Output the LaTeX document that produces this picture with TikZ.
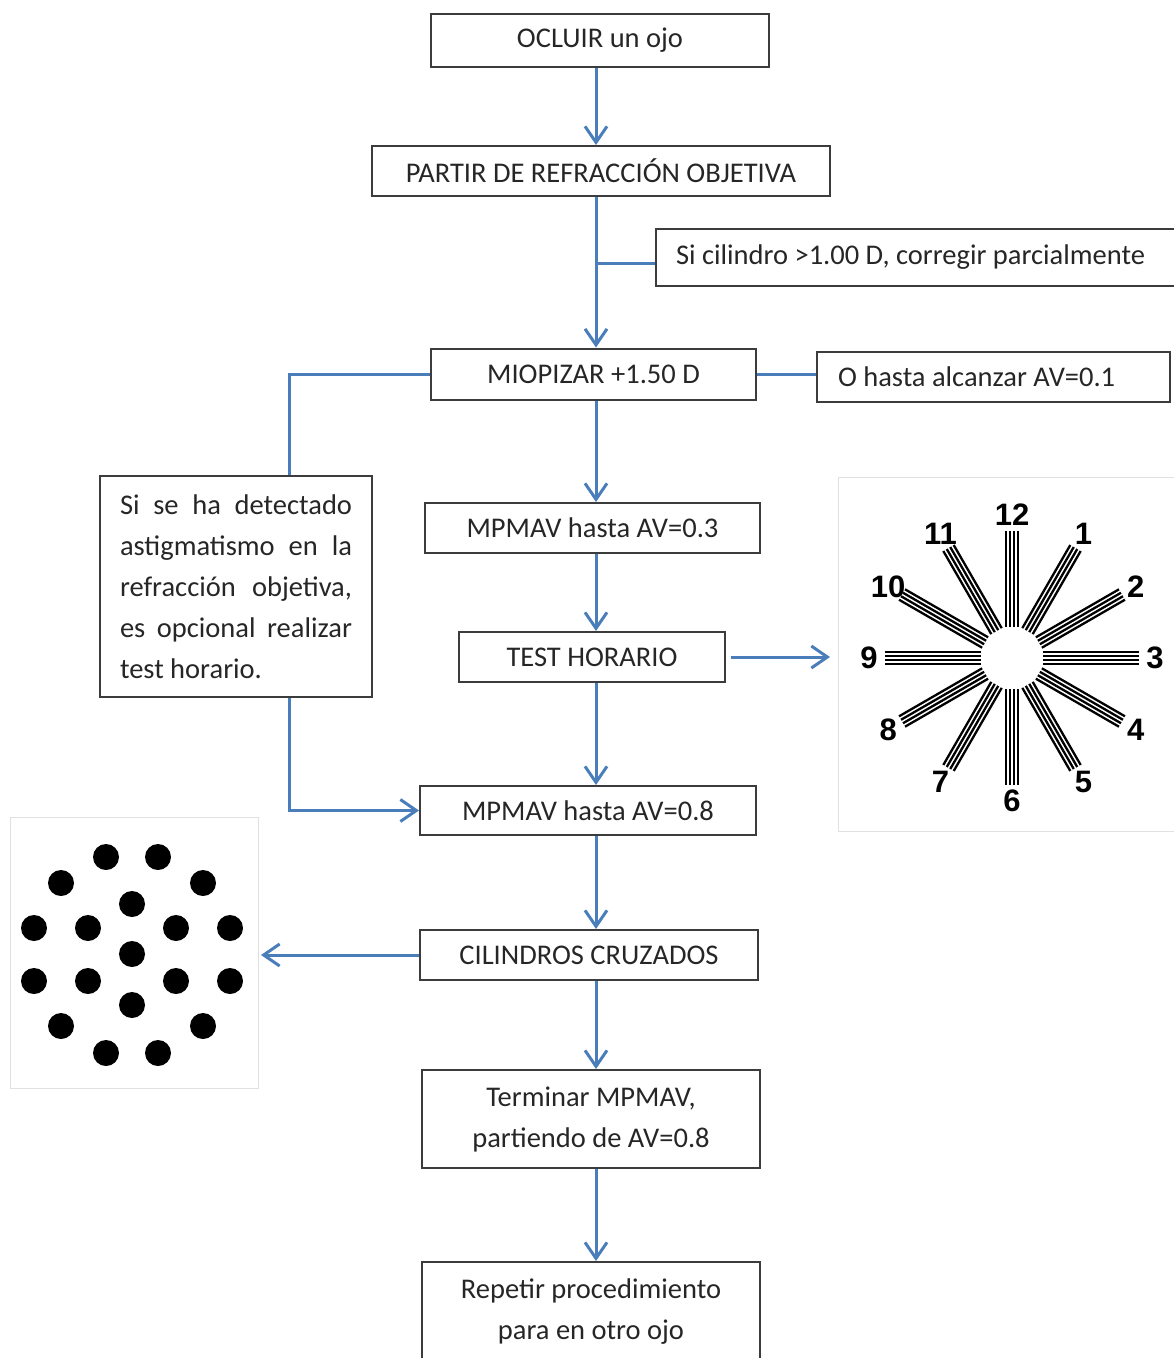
\documentclass[tikz,border=0pt]{standalone}
\usepackage{fontspec}
\setmainfont{Carlito}
\newfontfamily\dialfont{Liberation Sans}
\usetikzlibrary{arrows.meta}
\definecolor{flowblue}{RGB}{74,126,187}
\definecolor{boxgray}{RGB}{60,60,60}

\tikzset{
  box/.style={draw=boxgray, line width=2pt, rectangle, text=black!85, inner sep=0pt,
    font=\fontsize{28.5}{41}\selectfont},
  link/.style={draw=flowblue, line width=3pt},
  arr/.style={link, -{Straight Barb[length=16pt,width=22pt]}},
  picframe/.style={draw=black!12, line width=1pt, inner sep=0pt},
  spoke/.style={line width=2.3pt},
  hour/.style={font=\dialfont\bfseries\fontsize{31}{31}\selectfont, inner sep=0pt}
}

\begin{document}
\begin{tikzpicture}[x=1pt, y=-1pt]
\useasboundingbox (0,0) rectangle (1174,1358);
% Define the flow boxes
\node[box, minimum width=338pt, minimum height=53pt] (ocluir) at (600,40.5) {OCLUIR un ojo};
\node[box, minimum width=458pt, minimum height=50pt] (partir) at (601,171) {PARTIR DE REFRACCIÓN OBJETIVA};
\node[box, anchor=west, minimum height=57pt, text width=495pt, inner xsep=20pt, align=flush left] (cilindro) at (655,257.5) {Si cilindro >1.00 D, corregir parcialmente};
\node[box, minimum width=325pt, minimum height=51pt] (miop) at (593.5,374) {MIOPIZAR +1.50 D};
\node[box, minimum height=50pt, text width=311pt, inner xsep=21pt, align=flush left] (alcanzar) at (993.5,377) {O hasta alcanzar AV=0.1};
\node[box, minimum height=221pt, text width=232pt, inner xsep=20pt, align=justify] (nota) at (236,586.5) {Si se ha detectado astigmatismo en la refracción objetiva, es opcional realizar test horario.};
\node[box, minimum width=335pt, minimum height=50pt] (avtres) at (592.5,528) {MPMAV hasta AV=0.3};
\node[box, minimum width=266pt, minimum height=50pt] (test) at (592,657) {TEST HORARIO};
\node[box, minimum width=336pt, minimum height=49pt] (avocho) at (588,810.5) {MPMAV hasta AV=0.8};
\node[box, minimum width=338pt, minimum height=50pt] (cruz) at (589,955) {CILINDROS CRUZADOS};
\node[box, minimum width=338pt, minimum height=98pt, align=center] (term) at (591,1119) {Terminar MPMAV,\\partiendo de AV=0.8};
\node[box, minimum width=338pt, minimum height=100pt, align=center] (rep) at (591,1312) {Repetir procedimiento\\para en otro ojo};

% Pictures beside the flow
\node[picframe, anchor=north west, minimum width=350pt, minimum height=354pt] (clockbox) at (838,477) {};
\node[picframe, anchor=north west, minimum width=248pt, minimum height=271pt] (dotbox) at (10,817) {};

% Clock dial
\coordinate (dial) at (1012,658);
\begin{scope}[shift={(dial)}]
\foreach \k in {1,...,12} {
  \foreach \d in {-6,-2,2,6}
    \draw[spoke, rotate=90-30*\k] (31,\d) -- (127,\d);
  \node[hour] at (30*\k-90:143) {\k};
}
\end{scope}

% Cross cylinder dots
\fill (106,857) circle (13pt) (158,857) circle (13pt)
      (61,883) circle (13pt) (203,883) circle (13pt)
      (132,904) circle (13pt)
      (34,928) circle (13pt) (88,928) circle (13pt) (176,928) circle (13pt) (230,928) circle (13pt)
      (132,954) circle (13pt)
      (34,981) circle (13pt) (88,981) circle (13pt) (176,981) circle (13pt) (230,981) circle (13pt)
      (132,1005) circle (13pt)
      (61,1026) circle (13pt) (203,1026) circle (13pt)
      (106,1053) circle (13pt) (158,1053) circle (13pt);

% Draw connectors
\coordinate (axis) at (596,0);
\coordinate (side) at (289,0);
\draw[arr] (ocluir.south -| axis) -- (partir.north -| axis);
\draw[arr] (partir.south -| axis) -- (miop.north -| axis);
\draw[link] ([yshift=-6pt]axis |- cilindro.west) -- ([yshift=-6pt]cilindro.west);
\draw[link] (miop.east) -- (miop.east -| alcanzar.west);
\draw[link] (miop.west) -| (nota.north -| side);
\draw[arr] (nota.south -| side) |- (avocho.west);
\draw[arr] (miop.south -| axis) -- (avtres.north -| axis);
\draw[arr] (avtres.south -| axis) -- (test.north -| axis);
\draw[arr, shorten <=5pt, shorten >=8pt] (test.east) -- (test.east -| clockbox.west);
\draw[arr] (test.south -| axis) -- (avocho.north -| axis);
\draw[arr] (avocho.south -| axis) -- (cruz.north -| axis);
\draw[arr, shorten >=2pt] (cruz.west) -- (cruz.west -| dotbox.east);
\draw[arr] (cruz.south -| axis) -- (term.north -| axis);
\draw[arr] (term.south -| axis) -- (rep.north -| axis);
\end{tikzpicture}
\end{document}
